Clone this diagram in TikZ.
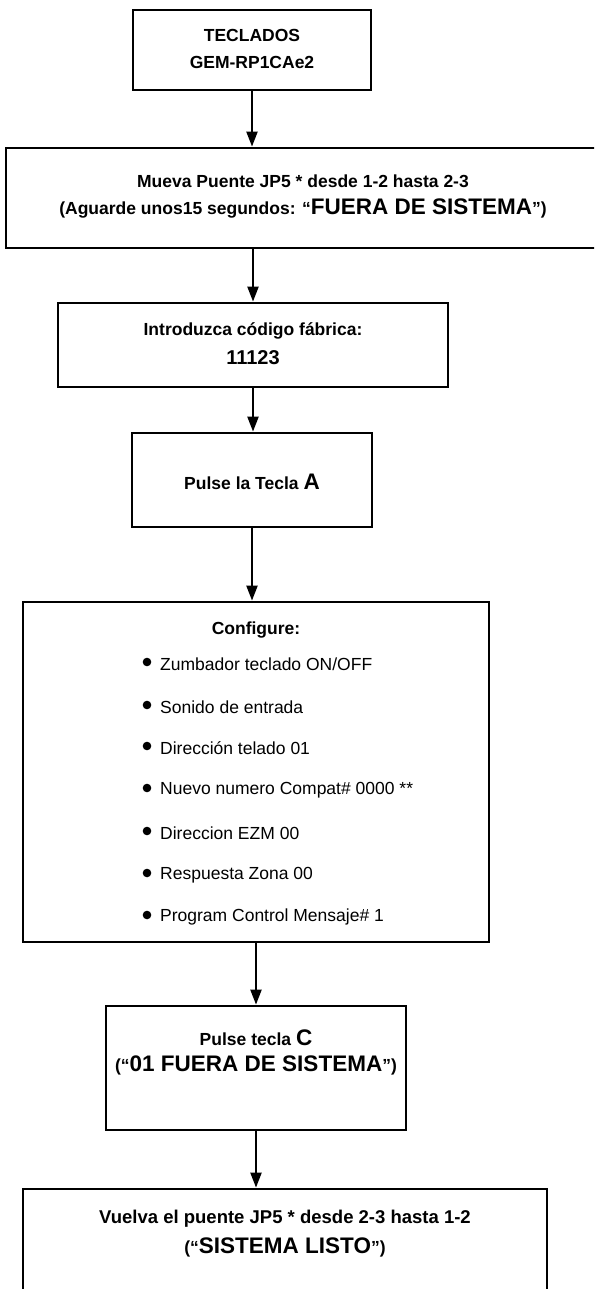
\documentclass[tikz,border=0pt]{standalone}
\usepackage{fontspec}
\setmainfont{Liberation Sans}
\usetikzlibrary{arrows.meta}
\newcommand{\nrm}{\fontsize{17.5}{20}\selectfont}
\newcommand{\bgr}{\fontsize{22.5}{24}\selectfont}
\newcommand{\mdm}{\fontsize{20}{22}\selectfont}
\tikzset{
  box/.style={draw, line width=2.8pt, inner sep=0pt, rectangle},
  txt/.style={align=center, font=\nrm\bfseries, inner sep=0pt},
  item/.style={anchor=west, font=\nrm, inner sep=0pt},
  arr/.style={line width=2.2pt, -{Triangle[length=15pt,width=11pt]}},
}
\begin{document}
\begin{tikzpicture}[x=1pt,y=-1pt]
\clip (0,0) rectangle (594,1289);
\fill[white] (0,0) rectangle (594,1289);
% boxes
\node[box, minimum width=238pt, minimum height=80pt] (b1) at (252,50) {};
\node[box, minimum width=596pt, minimum height=100pt] (b2) at (304,198) {};
\node[box, minimum width=390pt, minimum height=84pt] (b3) at (253,345) {};
\node[box, minimum width=240pt, minimum height=94pt] (b4) at (252,480) {};
\node[box, minimum width=466pt, minimum height=340pt] (b5) at (256,772) {};
\node[box, minimum width=300pt, minimum height=124pt] (b6) at (256,1068) {};
\node[box, minimum width=524pt, minimum height=140pt] (b7) at (285,1259) {};
% texts
\node[txt] (t1a) at (252,35) {TECLADOS};
\node[txt] (t1b) at (252,62) {GEM-RP1CAe2};
\node[txt] (t2a) at (303,181) {Mueva Puente JP5 * desde 1-2 hasta 2-3};
\node[txt] (t2b) at (303,208) {(Aguarde unos15 segundos: “{\bgr FUERA DE SISTEMA}”)};
\node[txt] (t3a) at (253,331) {Introduzca código fábrica:};
\node[txt] (t3b) at (253,358) {\mdm 11123};
\node[txt] (t4) at (252,482) {Pulse la Tecla {\bgr A}};
\node[txt] (t5) at (256,630) {Configure:};
\foreach \y/\s [count=\i] in {664/{Zumbador teclado ON/OFF}, 707/{Sonido de entrada}, 748/{Dirección telado 01}, 790/{Nuevo numero Compat\# 0000 **}, 833/{Direccion EZM 00}, 875/{Respuesta Zona 00}, 917/{Program Control Mensaje\# 1}}{
  \fill (147,\y-2) circle (4.3pt);
  \node[item] (i\i) at (160,\y) {\s};
}
\node[txt] (t6a) at (256,1038) {Pulse tecla {\bgr C}};
\node[txt] (t6b) at (256,1065) {(“{\bgr 01 FUERA DE SISTEMA}”)};
\node[txt, font=\fontsize{18.5}{20}\selectfont\bfseries] (t7a) at (285,1219) {Vuelva el puente JP5 * desde 2-3 hasta 1-2};
\node[txt] (t7b) at (285,1247) {(“{\bgr SISTEMA LISTO}”)};
% arrows
\draw[arr] (b1.south) -- (b1.south |- b2.north);
\draw[arr] (b3.north |- b2.south) -- (b3.north);
\draw[arr] (b3.south) -- (b3.south |- b4.north);
\draw[arr] (b4.south) -- (b4.south |- b5.north);
\draw[arr] (b6.north |- b5.south) -- (b6.north);
\draw[arr] (b6.south) -- (b6.south |- b7.north);
\end{tikzpicture}
\end{document}
